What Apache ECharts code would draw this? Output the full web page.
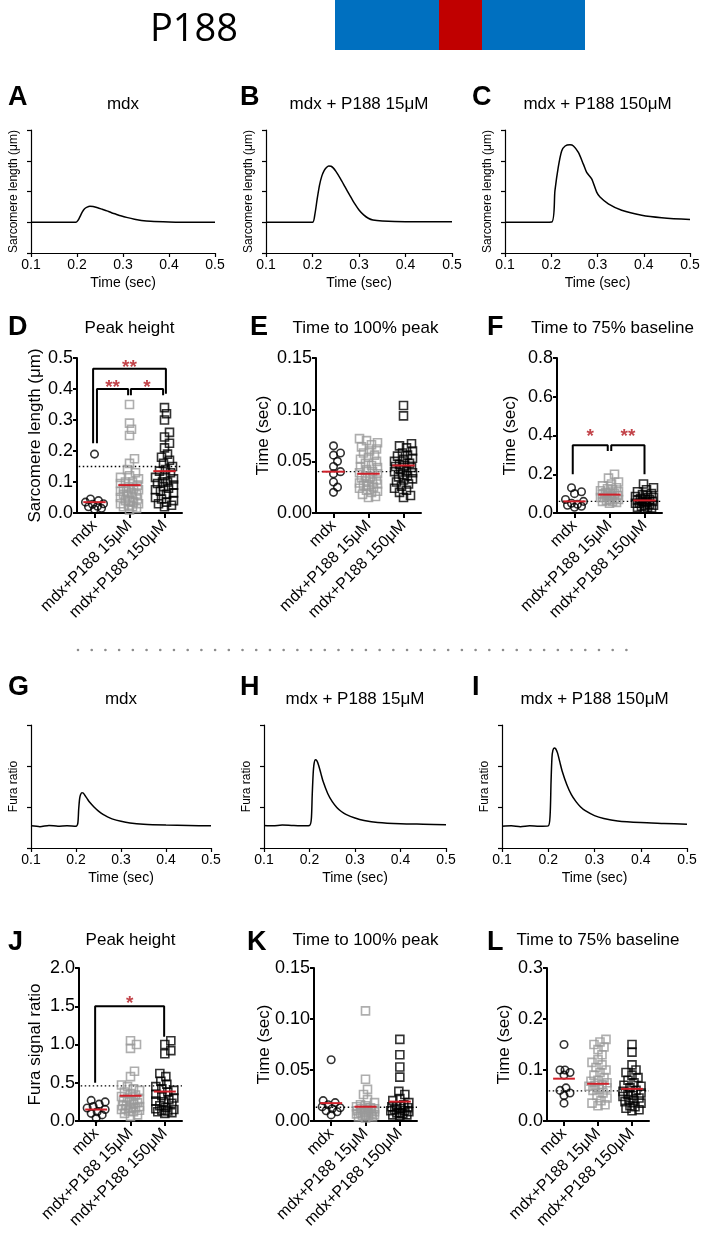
<!DOCTYPE html>
<html>
<head>
<meta charset="utf-8">
<script src="https://cdn.jsdelivr.net/npm/echarts@6.0.0/dist/echarts.min.js"></script>
<style>
html,body{margin:0;padding:0;background:#fff;}
#c{width:705px;height:1240px;}
</style>
</head>
<body>
<div id="c"></div>
<script>
// ================= DATA =================
const groupNames = ['mdx', 'mdx+P188 15μM', 'mdx+P188 150μM'];
const traceTitles = ['mdx', 'mdx + P188 15μM', 'mdx + P188 150μM'];
const timeTicks = [0.1, 0.2, 0.3, 0.4, 0.5];

// Sarcomere length traces (A-C), in y-tick units (baseline = 1)
const tA = [0.10,0.15,0.198,0.203,0.207,0.211,0.216,0.222,0.228,0.235,0.245,0.255,0.265,0.275,0.285,0.295,0.31,0.325,0.34,0.36,0.40,0.45,0.50];
const sarcA = [1.00,1.00,1.00,1.08,1.20,1.32,1.43,1.49,1.52,1.51,1.47,1.42,1.37,1.31,1.26,1.21,1.15,1.10,1.06,1.03,1.01,1.00,1.00];
const tB = [0.10,0.15,0.20,0.205,0.21,0.215,0.22,0.225,0.23,0.235,0.24,0.245,0.25,0.26,0.27,0.28,0.29,0.30,0.31,0.32,0.33,0.35,0.40,0.45,0.50];
const sarcB = [1.0,1.0,1.0,1.25,1.75,2.2,2.5,2.68,2.78,2.83,2.82,2.76,2.66,2.42,2.15,1.88,1.62,1.40,1.24,1.13,1.07,1.04,1.02,1.02,1.02];
const tC = [0.10,0.15,0.201,0.208,0.215,0.2225,0.23,0.2405,0.248,0.2586,0.2694,0.2766,0.2874,0.2982,0.3054,0.3234,0.3523,0.3955,0.4387,0.50];
const sarcC = [1.0,1.0,1.01,2.03,2.78,3.32,3.48,3.52,3.48,3.27,2.89,2.62,2.41,1.98,1.82,1.60,1.39,1.23,1.15,1.09];

// Fura ratio traces (G-I)
const tFura = [0.10,0.12,0.14,0.16,0.18,0.20,0.204,0.206,0.208,0.21,0.213,0.216,0.22,0.225,0.23,0.24,0.25,0.26,0.27,0.28,0.30,0.32,0.35,0.40,0.45,0.50];
const furaG = [0.54,0.52,0.55,0.53,0.54,0.53,0.60,0.95,1.20,1.30,1.35,1.34,1.28,1.20,1.12,1.00,0.90,0.82,0.76,0.71,0.65,0.61,0.58,0.56,0.55,0.54];
const furaH = [0.55,0.54,0.56,0.55,0.54,0.55,0.70,1.30,1.80,2.05,2.15,2.13,2.02,1.82,1.62,1.33,1.13,0.99,0.89,0.82,0.73,0.67,0.62,0.59,0.58,0.57];
const furaI = [0.53,0.54,0.52,0.54,0.53,0.54,0.80,1.60,2.20,2.38,2.44,2.42,2.32,2.10,1.88,1.55,1.30,1.13,1.00,0.91,0.79,0.72,0.66,0.62,0.60,0.58];

// D: Peak height (sarcomere, µm)
const ticksD = [0, 0.1, 0.2, 0.3, 0.4, 0.5];
const peakSarcMdx = [0.19,0.045,0.04,0.035,0.03,0.028,0.022,0.02,0.015,0.012];
const peakSarc15 = [0.35,0.29,0.27,0.25,0.175,0.16,0.14,0.13,0.12,0.115,0.11,0.1,0.1,0.095,0.09,0.085,0.08,0.08,0.075,0.07,0.07,0.065,0.06,0.06,0.055,0.05,0.05,0.045,0.04,0.04,0.035,0.03,0.03,0.025,0.02,0.02,0.015,0.01];
const peakSarc150 = [0.34,0.32,0.30,0.26,0.245,0.225,0.21,0.19,0.18,0.17,0.16,0.15,0.14,0.135,0.13,0.12,0.115,0.11,0.1,0.1,0.095,0.09,0.085,0.08,0.075,0.07,0.065,0.06,0.05,0.045,0.04,0.035,0.03,0.025,0.02];
const meanD = [0.035, 0.09, 0.135];
const refD = 0.15;
const bracketsD = [
  {x1:0.46, x2:2.54, y:0.465, y1:0.225, y2:0.385, label:'**', starY:0.48},
  {x1:0.57, x2:1.46, y:0.40, y1:0.225, y2:0.38, label:'**', starY:0.416},
  {x1:1.54, x2:2.46, y:0.40, y1:0.38, y2:0.38, label:'*', starY:0.416}
];

// E: Time to 100% peak (sarcomere)
const ticksE = [0, 0.05, 0.10, 0.15];
const ttpSarcMdx = [0.065,0.058,0.056,0.05,0.045,0.04,0.038,0.03,0.025,0.02];
const ttpSarc15 = [0.072,0.07,0.068,0.066,0.064,0.062,0.06,0.058,0.056,0.054,0.052,0.05,0.048,0.046,0.045,0.044,0.042,0.04,0.039,0.038,0.036,0.035,0.034,0.032,0.031,0.03,0.029,0.028,0.027,0.026,0.025,0.024,0.022,0.021,0.02,0.018,0.016,0.015];
const ttpSarc150 = [0.104,0.094,0.067,0.065,0.063,0.06,0.058,0.056,0.055,0.053,0.052,0.05,0.048,0.047,0.046,0.045,0.044,0.042,0.041,0.04,0.039,0.037,0.036,0.035,0.033,0.032,0.03,0.028,0.026,0.024,0.022,0.02,0.017,0.015];
const meanE = [0.04, 0.038, 0.046];
const refE = 0.04;

// F: Time to 75% baseline (sarcomere)
const ticksF = [0, 0.2, 0.4, 0.6, 0.8];
const t75SarcMdx = [0.13,0.11,0.1,0.07,0.06,0.05,0.045,0.04,0.035,0.03];
const t75Sarc15 = [0.2,0.18,0.16,0.15,0.14,0.13,0.125,0.12,0.115,0.11,0.105,0.1,0.1,0.095,0.09,0.09,0.085,0.08,0.08,0.075,0.07,0.07,0.065,0.06,0.06,0.055,0.05];
const t75Sarc150 = [0.15,0.13,0.12,0.11,0.1,0.095,0.09,0.085,0.08,0.075,0.07,0.07,0.065,0.06,0.06,0.055,0.05,0.05,0.045,0.04,0.04,0.035,0.03,0.03,0.025,0.02];
const meanF = [0.06, 0.095, 0.065];
const refF = 0.06;
const bracketsF = [
  {x1:0.45, x2:1.45, y:0.35, y1:0.2, y2:0.32, label:'*', starY:0.413},
  {x1:1.55, x2:2.5, y:0.35, y1:0.32, y2:0.2, label:'**', starY:0.413}
];

// J: Peak height (Fura)
const ticksJ = [0, 0.5, 1.0, 1.5, 2.0];
const peakFuraMdx = [0.27,0.25,0.22,0.19,0.17,0.15,0.12,0.1,0.08,0.04];
const peakFura15 = [1.05,1.0,0.95,0.65,0.58,0.47,0.45,0.42,0.4,0.38,0.36,0.34,0.32,0.3,0.28,0.27,0.26,0.25,0.24,0.22,0.21,0.2,0.19,0.18,0.17,0.16,0.15,0.14,0.13,0.12,0.1,0.08,0.06];
const peakFura150 = [1.05,1.0,0.92,0.88,0.62,0.58,0.52,0.48,0.45,0.42,0.4,0.38,0.35,0.33,0.3,0.28,0.26,0.25,0.23,0.2,0.18,0.16,0.15,0.14,0.13,0.12,0.11,0.1];
const meanJ = [0.15, 0.33, 0.385];
const refJ = 0.46;
const bracketsJ = [
  {x1:0.47, x2:2.48, y:1.5, y1:0.5, y2:1.1, label:'*', starY:1.58}
];

// K: Time to 100% peak (Fura)
const ticksK = [0, 0.05, 0.10, 0.15];
const ttpFuraMdx = [0.06,0.02,0.018,0.016,0.014,0.013,0.012,0.01,0.009,0.006];
const ttpFura15 = [0.108,0.041,0.031,0.026,0.021,0.018,0.016,0.015,0.014,0.013,0.012,0.012,0.011,0.01,0.01,0.009,0.009,0.008,0.008,0.007,0.007,0.006,0.006,0.005,0.005,0.004,0.004,0.003];
const ttpFura150 = [0.08,0.065,0.053,0.043,0.029,0.026,0.022,0.02,0.018,0.016,0.015,0.014,0.013,0.012,0.011,0.01,0.01,0.009,0.008,0.008,0.007,0.006,0.006,0.005];
const meanK = [0.0175, 0.014, 0.019];
const refK = 0.0135;

// L: Time to 75% baseline (Fura)
const ticksL = [0, 0.1, 0.2, 0.3];
const t75FuraMdx = [0.15,0.1,0.1,0.095,0.09,0.065,0.06,0.055,0.05,0.035];
const t75Fura15 = [0.16,0.155,0.15,0.145,0.14,0.13,0.12,0.115,0.11,0.105,0.1,0.095,0.09,0.085,0.08,0.078,0.075,0.072,0.07,0.068,0.065,0.062,0.06,0.055,0.05,0.045,0.04,0.035,0.032,0.03];
const t75Fura150 = [0.15,0.135,0.11,0.1,0.095,0.09,0.085,0.08,0.075,0.07,0.068,0.065,0.06,0.058,0.055,0.052,0.05,0.048,0.045,0.042,0.04,0.038,0.035,0.03,0.028,0.025,0.022,0.02];
const meanL = [0.083, 0.073, 0.063];
const refL = 0.059;

// ================= BUILD =================
const FONT = "'Liberation Sans', Arial, Helvetica, sans-serif";
const grids = [], xAxes = [], yAxes = [], series = [], graphics = [];

function txt(text, x, y, size, opts) {
  opts = opts || {};
  graphics.push({
    type: 'text', x: x, y: y, rotation: opts.rot || 0, silent: true,
    style: {
      text: text, fill: opts.color || '#000',
      font: (opts.weight || 'normal') + ' ' + size + 'px ' + (opts.family || FONT),
      align: opts.align || 'center', verticalAlign: 'middle'
    }
  });
}

function addTrace(g, times, vals, yMax, yName, title, letter) {
  const gi = grids.length;
  grids.push({left: g.l, top: g.t, width: g.w, height: g.h, containLabel: false, outerBoundsMode: 'none'});
  const xi = xAxes.length;
  xAxes.push({
    gridIndex: gi, type: 'value', min: timeTicks[0], max: timeTicks[timeTicks.length - 1], interval: 0.1,
    axisLine: {show: true, onZero: false, lineStyle: {color: '#000', width: 1.2}},
    axisTick: {show: true, length: 4, lineStyle: {color: '#000', width: 1.2}},
    axisLabel: {color: '#000', fontSize: 14, fontFamily: FONT, margin: 5, formatter: v => v.toFixed(1)},
    splitLine: {show: false},
    name: 'Time (sec)', nameLocation: 'middle', nameGap: 23,
    nameTextStyle: {color: '#000', fontSize: 14, fontFamily: FONT}
  });
  const yi = yAxes.length;
  yAxes.push({
    gridIndex: gi, type: 'value', min: 0, max: yMax, interval: 1,
    axisLine: {show: true, onZero: false, lineStyle: {color: '#000', width: 1.2}},
    axisTick: {show: true, length: 4, lineStyle: {color: '#000', width: 1.2}},
    axisLabel: {show: false}, splitLine: {show: false}
  });
  series.push({
    type: 'line', xAxisIndex: xi, yAxisIndex: yi, silent: true,
    data: times.map((t, i) => [t, vals[i]]),
    symbol: 'none', smooth: 0.25, lineStyle: {color: '#000', width: 1.5}
  });
  txt(title, g.l + g.w / 2, g.titleY, 17);
  txt(letter, g.letterX, g.letterY, 27, {weight: 'bold', align: 'left'});
  txt(yName, g.l - 17, g.t + g.h / 2, 12, {rot: Math.PI / 2});
}

// deterministic beeswarm layout (pixel offsets only; values untouched)
function swarm(vals, center, range, axisPx, catPx, sym, maxHalf) {
  const placed = [];
  const out = [];
  const sorted = vals.slice().sort((a, b) => a - b);
  sorted.forEach(v => {
    const y = v / range * axisPx;
    let best = 0, bestD = -1;
    for (let k = 0; k <= 2 * maxHalf; k++) {
      const off = (k % 2 ? 1 : -1) * Math.ceil(k / 2);
      let md = Infinity;
      placed.forEach(p => { const d = Math.hypot(p.x - off, p.y - y); if (d < md) md = d; });
      if (md >= sym * 0.85) { best = off; bestD = md; break; }
      if (md > bestD) { bestD = md; best = off; }
    }
    placed.push({x: best, y: y});
    out.push([center + best / catPx, v]);
  });
  return out;
}

const groupStyle = [
  {symbol: 'circle', size: 7.5, color: '#000'},
  {symbol: 'rect', size: 8, color: '#9a9a9a'},
  {symbol: 'rect', size: 8, color: '#000'}
];

function addScatter(g, ticks, dec, groups, means, ref, brackets, yName, title, letter) {
  const gi = grids.length;
  grids.push({left: g.l, top: g.t, width: g.w, height: g.h, containLabel: false, outerBoundsMode: 'none'});
  xAxes.push({
    gridIndex: gi, type: 'category', data: groupNames, boundaryGap: true,
    axisLine: {show: true, lineStyle: {color: '#000', width: 2}},
    axisTick: {show: true, alignWithLabel: true, length: 5, lineStyle: {color: '#000', width: 2}},
    axisLabel: {interval: 0, rotate: 45, color: '#000', fontSize: 16, fontFamily: FONT, margin: 10},
    splitLine: {show: false}
  });
  const xv = xAxes.length;
  xAxes.push({gridIndex: gi, type: 'value', min: 0, max: 3, show: false});
  const yi = yAxes.length;
  const yMin = ticks[0], yMax = ticks[ticks.length - 1];
  yAxes.push({
    gridIndex: gi, type: 'value', min: yMin, max: yMax, interval: ticks[1] - ticks[0],
    axisLine: {show: true, onZero: false, lineStyle: {color: '#000', width: 2}},
    axisTick: {show: true, length: 4, lineStyle: {color: '#000', width: 2}},
    axisLabel: {color: '#000', fontSize: 18, fontFamily: FONT, margin: 4, formatter: v => v.toFixed(dec)},
    splitLine: {show: false}
  });
  const range = yMax - yMin;
  series.push({
    type: 'line', xAxisIndex: xv, yAxisIndex: yi, silent: true, symbol: 'none', z: 1,
    data: [[0.05, ref], [3, ref]],
    lineStyle: {color: '#000', width: 1.3, type: [1.5, 2.5]}
  });
  groups.forEach((vals, k) => {
    const st = groupStyle[k];
    series.push({
      type: 'scatter', xAxisIndex: xv, yAxisIndex: yi, silent: true, z: 2,
      symbol: st.symbol, symbolSize: st.size,
      data: swarm(vals, k + 0.5, range, g.h, g.w / 3, 7.5, 9),
      itemStyle: {color: 'rgba(0,0,0,0)', borderColor: st.color, borderWidth: 1.6}
    });
    series.push({
      type: 'line', xAxisIndex: xv, yAxisIndex: yi, silent: true, symbol: 'none', z: 3,
      data: [[k + 0.5 - 0.32, means[k]], [k + 0.5 + 0.32, means[k]]],
      lineStyle: {color: '#d0202a', width: 2}
    });
  });
  (brackets || []).forEach(b => {
    series.push({
      type: 'line', xAxisIndex: xv, yAxisIndex: yi, silent: true, symbol: 'none', z: 4,
      data: [[b.x1, b.y1], [b.x1, b.y], [b.x2, b.y], [b.x2, b.y2]],
      lineStyle: {color: '#000', width: 2}
    });
    series.push({
      type: 'scatter', xAxisIndex: xv, yAxisIndex: yi, silent: true, z: 5,
      symbolSize: 1, itemStyle: {color: 'rgba(0,0,0,0)'},
      data: [{value: [(b.x1 + b.x2) / 2, b.starY], name: b.label}],
      label: {show: true, position: 'inside', offset: [0, 4], formatter: '{b}',
        color: '#b3141c', fontSize: 19, fontWeight: 'bold', fontFamily: FONT}
    });
  });
  txt(title, g.l + g.w / 2 + (g.titleDx || 0), g.titleY, 17);
  txt(letter, g.letterX, g.letterY, 27, {weight: 'bold', align: 'left'});
  txt(yName, g.yNameX, g.t + g.h / 2 + (g.yNameDy || 0), 17, {rot: Math.PI / 2});
}

// ---- layout (positions only) ----
const L1 = {t: 130, h: 123, titleY: 104, letterY: 98};
const L3 = {t: 725, h: 123, titleY: 699, letterY: 688};
addTrace(Object.assign({l: 31, w: 184, letterX: 8}, L1), tA, sarcA, 4, 'Sarcomere length (μm)', traceTitles[0], 'A');
addTrace(Object.assign({l: 266, w: 186, letterX: 240}, L1), tB, sarcB, 4, 'Sarcomere length (μm)', traceTitles[1], 'B');
addTrace(Object.assign({l: 505, w: 185, letterX: 472}, L1), tC, sarcC, 4, 'Sarcomere length (μm)', traceTitles[2], 'C');
addTrace(Object.assign({l: 31, w: 180, letterX: 8}, L3), tFura, furaG, 3, 'Fura ratio', traceTitles[0], 'G');
addTrace(Object.assign({l: 264, w: 182, letterX: 240}, L3), tFura, furaH, 3, 'Fura ratio', traceTitles[1], 'H');
addTrace(Object.assign({l: 502, w: 185, letterX: 472}, L3), tFura, furaI, 3, 'Fura ratio', traceTitles[2], 'I');

const L2 = {t: 358, h: 155, titleY: 328, letterY: 328};
const L4 = {t: 968, h: 153, titleY: 940, letterY: 943};
addScatter(Object.assign({l: 77, w: 105, letterX: 8, yNameX: 35}, L2), ticksD, 1,
  [peakSarcMdx, peakSarc15, peakSarc150], meanD, refD, bracketsD, 'Sarcomere length (μm)', 'Peak height', 'D');
addScatter(Object.assign({l: 316, w: 105, letterX: 250, yNameX: 263, titleDx: -3}, L2), ticksE, 2,
  [ttpSarcMdx, ttpSarc15, ttpSarc150], meanE, refE, null, 'Time (sec)', 'Time to 100% peak', 'E');
addScatter(Object.assign({l: 557, w: 105, letterX: 487, yNameX: 510, titleDx: 3}, L2), ticksF, 1,
  [t75SarcMdx, t75Sarc15, t75Sarc150], meanF, refF, bracketsF, 'Time (sec)', 'Time to 75% baseline', 'F');
addScatter(Object.assign({l: 79, w: 103, letterX: 8, yNameX: 35}, L4), ticksJ, 1,
  [peakFuraMdx, peakFura15, peakFura150], meanJ, refJ, bracketsJ, 'Fura signal ratio', 'Peak height', 'J');
addScatter(Object.assign({l: 314, w: 103, letterX: 247, yNameX: 264}, L4), ticksK, 2,
  [ttpFuraMdx, ttpFura15, ttpFura150], meanK, refK, null, 'Time (sec)', 'Time to 100% peak', 'K');
addScatter(Object.assign({l: 547, w: 102, letterX: 487, yNameX: 504, titleDx: 0}, L4), ticksL, 1,
  [t75FuraMdx, t75Fura15, t75Fura150], meanL, refL, null, 'Time (sec)', 'Time to 75% baseline', 'L');

// ---- header & separator ----
graphics.push({type: 'rect', silent: true, shape: {x: 335, y: 0, width: 250, height: 50}, style: {fill: '#0070C0'}});
graphics.push({type: 'rect', silent: true, shape: {x: 439, y: 0, width: 43, height: 50}, style: {fill: '#C00000'}});
txt('P188', 194, 30, 38, {family: "'Open Sans', 'Noto Sans', sans-serif"});
graphics.push({type: 'line', silent: true, shape: {x1: 78, y1: 650, x2: 632, y2: 650},
  style: {stroke: '#8c8c8c', lineWidth: 2.6, lineDash: [0.01, 13.7], lineCap: 'round'}});

const chart = echarts.init(document.getElementById('c'), null, {renderer: 'canvas', width: 705, height: 1240});
chart.setOption({
  animation: false,
  backgroundColor: '#fff',
  grid: grids, xAxis: xAxes, yAxis: yAxes, series: series,
  graphic: graphics
});
</script>
</body>
</html>
